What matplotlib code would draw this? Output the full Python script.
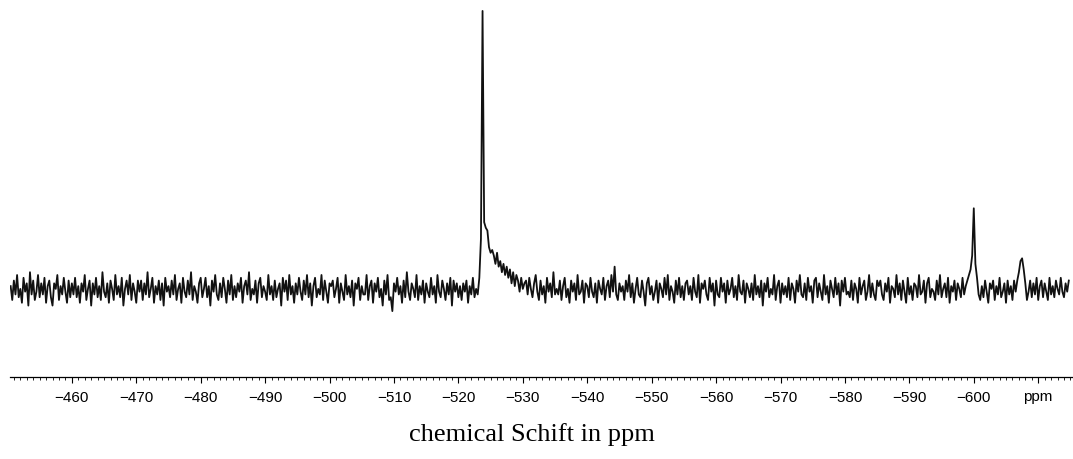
import numpy as np
import matplotlib
matplotlib.use("Agg")
import matplotlib.pyplot as plt
from matplotlib.ticker import MultipleLocator, FixedLocator

# spectrum sampled every 0.25 ppm, starting at -450.5 ppm (20 points = 5 ppm per row)
ppm_start = -450.5
ppm_step = 0.25
intensity = [
    1, -4, 3, -2, 5, -3, 0, -5, 4, -1, 2, -6, 6, -2, 3, -4, -1, 5, -3, 2,
    -2, 4, -5, 1, 3, -3, -6, 2, 0, 5, -4, 1, -2, 4, -1, -5, 3, -3, 2, -2,
    4, -3, 1, -5, 2, -1, 5, -4, 0, 3, -6, 2, -2, 4, -3, 1, -4, 6, -1, -3,
    2, -5, 3, 0, -4, 5, -2, 1, -3, 4, -6, 0, 3, -2, 5, -4, 2, -1, -5, 3,
    -1, 3, -4, 2, -2, 6, -3, 0, 4, -5, 1, -2, 3, -4, 2, -6, 4, -1, 1, -3,
    3, -2, 5, -4, 0, 2, -5, 4, -1, -3, 3, -2, 6, -4, 1, -1, -5, 2, 4, -3,
    0, 4, -3, 1, -6, 3, -1, 5, -2, -4, 2, -3, 4, 0, -5, 3, -2, 5, -4, 1,
    -3, 2, -1, 4, -5, 1, 3, -2, 6, -4, 0, -2, 3, -5, 2, 4, -3, 1, -1, -4,
    5, -2, 1, -4, 3, -3, 0, 2, -6, 4, -1, 3, -4, 5, -2, 1, -5, 2, -2, 4,
    -1, -4, 3, -2, 5, -3, 2, -6, 1, 4, -3, 0, -2, 5, -4, 3, -1, -5, 2, 1,
    3, -3, 0, 4, -5, 2, -1, -4, 5, -2, 1, -3, 3, -6, 2, 0, 4, -4, 1, -2,
    -2, 5, -4, 1, 3, -5, 2, -1, 4, -3, 0, -6, 3, -2, 5, -4, -3, -8, 2, -1,
    4, -2, 1, -5, 3, -3, 6, -1, -4, 2, 0, -3, 5, -4, 1, -2, 3, -5, 2, -1,
    -3, 4, -2, 1, -5, 5, -1, -3, 3, 0, -4, 2, -2, 4, -6, 3, -1, 2, -3, 1,
    -4, 2, -1, 3, -5, 1, -2, 4, -3, 0, -2, 4, 18, 100, 24, 22, 21, 15, 13, 14,
    12, 9, 13, 8, 10, 6, 9, 5, 8, 4, 7, 2, 6, 1, 5, 3, -1, 4, 0, 2,
    3, -2, 4, 0, -3, 2, 5, -1, -4, 3, -2, 1, -5, 4, -1, 2, -3, 6, -2, 0,
    -2, 3, -4, 1, 4, -3, 0, -5, 3, -1, 2, -4, 5, -2, -1, 3, -5, 2, 1, -3,
    4, -1, -3, 2, -5, 3, 0, -2, 4, -4, 1, 3, -3, 5, -1, 8, -2, -4, 2, -1,
    1, -4, 3, -1, 5, -3, 2, -5, 0, 4, -2, -3, 3, -1, -6, 2, 4, -2, 1, -4,
    -1, 3, -5, 2, 0, -3, 4, -2, 5, -4, 1, -1, -5, 3, -2, 4, -3, 1, -4, 2,
    3, -2, 1, -4, 4, -1, -3, 5, -5, 2, 0, 3, -2, -4, 4, -1, 2, -6, 3, -2,
    -3, 4, -1, 2, -5, 3, -2, 0, 4, -3, 1, -4, 5, -1, -2, 3, -5, 2, 0, -3,
    2, -4, 5, -2, 1, -3, 3, -6, 2, -1, 4, -3, 0, -2, 5, -4, 1, 3, -5, 2,
    -2, 1, -3, 4, -4, 2, 0, -5, 3, -1, 5, -2, -3, 2, -4, 4, -1, 1, -5, 3,
    4, -3, 2, -1, -4, 5, -2, 1, -5, 3, 0, -3, 4, -2, 2, -6, 3, -1, 4, -2,
    -1, -3, 3, -4, 2, 0, -5, 4, -2, 1, 3, -4, -1, 5, -3, 2, -2, -4, 3, 1,
    3, -2, -4, 2, -1, 4, -5, 1, 0, -3, 5, -2, 2, -4, 3, -1, -5, 4, -2, 1,
    -4, 2, 1, -3, 5, -2, -1, 3, -5, 2, 4, -3, 0, -1, -4, 3, -2, 5, -3, 0,
    2, -3, 4, -5, 1, -1, 3, -4, 2, 0, -3, 4, -2, 1, 3, 5, 7, 12, 29, 9,
    4, -2, -4, 1, -3, 3, -1, -5, 2, 0, 3, -4, 1, -2, 4, -3, -1, 2, -5, 3,
    -2, 1, -4, 3, -1, 3, 6, 10, 11, 7, 2, -4, -1, 3, -3, 2, -2, 4, -4, 1,
    3, -3, 2, -1, -4, 4, -2, 1, -3, 3, 0, -2, 4, -1, -3, 2, -1, 3,
]

tick_values = [-460, -470, -480, -490, -500, -510, -520, -530, -540,
               -550, -560, -570, -580, -590, -600, -610]
tick_labels = ["\u2212460", "\u2212470", "\u2212480", "\u2212490", "\u2212500",
               "\u2212510", "\u2212520", "\u2212530", "\u2212540", "\u2212550",
               "\u2212560", "\u2212570", "\u2212580", "\u2212590", "\u2212600", "ppm"]

ppm = ppm_start - ppm_step * np.arange(len(intensity))

fig = plt.figure(figsize=(10.73, 4.60), dpi=100)
ax = fig.add_axes([10 / 1073, 1 - 378 / 460, 1 - 10 / 1073, 378 / 460])

ax.plot(ppm, intensity, color="#111111", lw=1.3)

ax.set_xlim(-450.4, -615.4)
ax.set_ylim(-31.7, 104.3)

for side in ["left", "right", "top"]:
    ax.spines[side].set_visible(False)
ax.spines["bottom"].set_linewidth(0.9)
ax.set_yticks([])

ax.xaxis.set_major_locator(FixedLocator(tick_values))
ax.set_xticklabels(tick_labels, family="Liberation Sans", fontsize=11)
ax.xaxis.set_minor_locator(MultipleLocator(1))
ax.tick_params(axis="x", which="major", length=4, width=0.8, pad=5)
ax.tick_params(axis="x", which="minor", length=1.8, width=0.6)

fig.text(532 / 1073, 1 - 435 / 460, "chemical Schift in ppm",
         family="Liberation Serif", fontsize=19, ha="center", va="center")

fig.savefig("out.png", dpi=100)
